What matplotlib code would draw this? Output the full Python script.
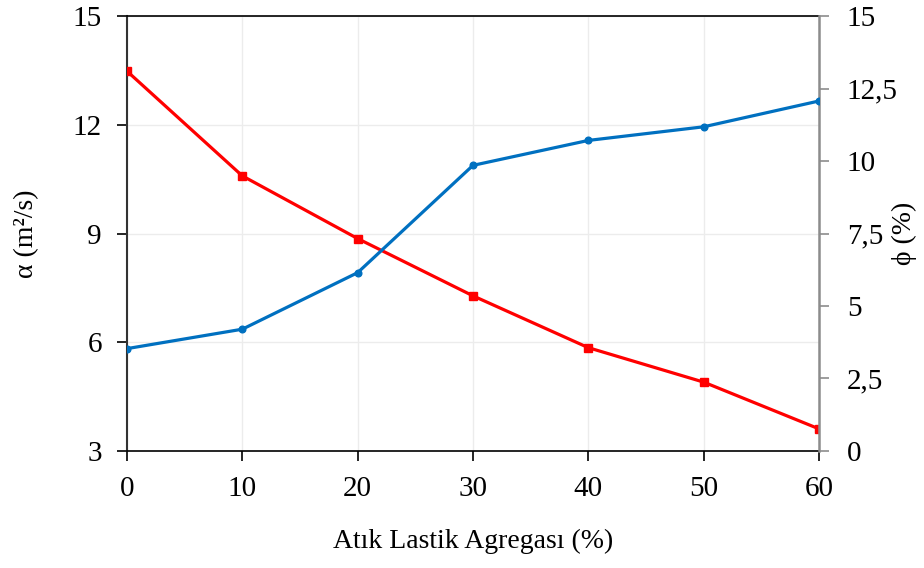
import matplotlib
matplotlib.use('Agg')
import matplotlib.pyplot as plt

# Veriler
agrega = [0, 10, 20, 30, 40, 50, 60]
alfa = [13.48, 10.59, 8.86, 7.28, 5.85, 4.90, 3.61]
phi = [3.53, 4.20, 6.15, 9.85, 10.71, 11.18, 12.07]

sol_ticks = [3, 6, 9, 12, 15]
sag_ticks = [0, 2.5, 5, 7.5, 10, 12.5, 15]
sag_etiket = ['0', '2,5', '5', '7,5', '10', '12,5', '15']

plt.rcParams['font.family'] = ['Liberation Serif', 'DejaVu Serif']

fig = plt.figure(figsize=(9.24, 5.68), dpi=100)
ax = fig.add_axes([0.1374, 0.206, 0.749, 0.7658])
ax2 = ax.twinx()

ax.plot(agrega, alfa, color='#ff0000', lw=2.3, marker='s', ms=6, zorder=3)
ax2.plot(agrega, phi, color='#0070c0', lw=2.3, marker='o', ms=4.8, zorder=3)

ax.set_xlim(0, 60)
ax.set_ylim(3, 15)
ax2.set_ylim(0, 15)
ax.set_xticks(agrega)
ax.set_yticks(sol_ticks)
ax2.set_yticks(sag_ticks)
ax2.set_yticklabels(sag_etiket)

ax.grid(True, color='#ececec', lw=1)
ax.set_axisbelow(True)

ax.tick_params(labelsize=21, direction='out', length=7, width=1.2)
ax.tick_params(axis='x', pad=11)
ax.tick_params(axis='y', pad=11)
ax2.tick_params(labelsize=21, direction='out', length=7, width=1.2, pad=13,
                color='#8c8c8c')
ax.spines['left'].set_color('#333333')
ax.spines['left'].set_linewidth(1.5)
ax.spines['bottom'].set_linewidth(1.2)
ax.spines['top'].set_linewidth(1.2)
ax2.spines['left'].set_visible(False)
ax2.spines['bottom'].set_visible(False)
ax2.spines['top'].set_visible(False)
ax2.spines['right'].set_color('#8c8c8c')
ax2.spines['right'].set_linewidth(1.8)
ax.spines['right'].set_visible(False)

ax.set_xlabel('Atık Lastik Agregası (%)', fontsize=20)
ax.set_ylabel('α (m²/s)', fontsize=20)
ax2.set_ylabel('ϕ (%)', fontsize=20, rotation=90)
ax.xaxis.set_label_coords(0.5, -0.18)
ax.yaxis.set_label_coords(-0.127, 0.5)
ax2.yaxis.set_label_coords(1.105, 0.5)

plt.savefig('out.png', dpi=100)
